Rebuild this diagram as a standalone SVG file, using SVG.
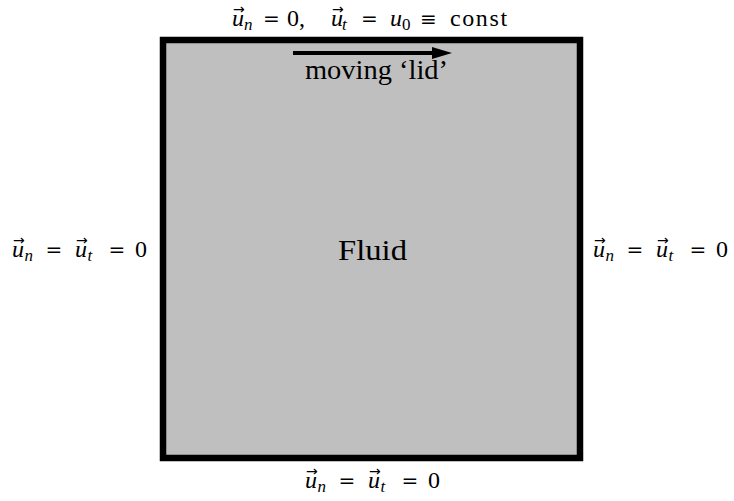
<svg xmlns="http://www.w3.org/2000/svg" width="734" height="501" viewBox="0 0 734 501">
<defs>
<style>
text{font-family:"Liberation Serif","DejaVu Serif",serif;fill:#000;font-size:24px}
.i{font-style:italic}
.s{font-style:italic;font-size:17px}
.r{font-size:17px}
.v{font-family:"DejaVu Sans",sans-serif;font-size:14px;font-style:normal}
.e{font-family:"DejaVu Serif",serif;font-size:20px}
</style>
<marker id="ah" viewBox="0 0 20 12" refX="8" refY="6" markerWidth="20" markerHeight="12" orient="auto" markerUnits="userSpaceOnUse">
<path d="M0,0 L20,6 L0,12 Z" fill="#000"/>
</marker>
</defs>
<rect width="734" height="501" fill="#fff"/>
<g id="fluid">
<rect x="163" y="40" width="417" height="418" fill="#bfbfbf" stroke="#000" stroke-width="6.5"/>
<text x="338" y="260" style="font-size:30px" textLength="69" lengthAdjust="spacingAndGlyphs">Fluid</text>
</g>
<g id="connectors">
<line x1="293" y1="53" x2="440" y2="53" stroke="#000" stroke-width="4" marker-end="url(#ah)"/>
</g>
<g id="lid-label">
<text x="305" y="79" style="font-size:27px" textLength="143" lengthAdjust="spacingAndGlyphs">moving ‘lid’</text>
</g>
<g id="top-bc">
<text><tspan class="i" x="232" y="26">u</tspan><tspan class="v" x="233" y="14">→</tspan><tspan class="s" x="244" y="30">n</tspan><tspan class="e" x="263" y="26">=</tspan><tspan x="287" y="26">0,</tspan><tspan class="i" x="331" y="26">u</tspan><tspan class="v" x="332" y="14">→</tspan><tspan class="s" x="342" y="30">t</tspan><tspan class="e" x="361" y="26">=</tspan><tspan class="i" x="390" y="26">u</tspan><tspan class="r" x="402" y="30">0</tspan><tspan class="e" x="420" y="26">≡</tspan><tspan x="450" y="26" letter-spacing="1.6">const</tspan></text>
</g>
<g id="left-bc">
<text><tspan class="i" x="12" y="257">u</tspan><tspan class="v" x="13" y="245">→</tspan><tspan class="s" x="24.5" y="261">n</tspan><tspan class="e" x="45.5" y="257">=</tspan><tspan class="i" x="75" y="257">u</tspan><tspan class="v" x="76" y="245">→</tspan><tspan class="s" x="87.5" y="261">t</tspan><tspan class="e" x="108.5" y="257">=</tspan><tspan x="135" y="257">0</tspan></text>
</g>
<g id="right-bc">
<text><tspan class="i" x="593" y="256.5">u</tspan><tspan class="v" x="594" y="244.5">→</tspan><tspan class="s" x="605.5" y="260.5">n</tspan><tspan class="e" x="626.5" y="256.5">=</tspan><tspan class="i" x="656" y="256.5">u</tspan><tspan class="v" x="657" y="244.5">→</tspan><tspan class="s" x="668.5" y="260.5">t</tspan><tspan class="e" x="689.5" y="256.5">=</tspan><tspan x="716" y="256.5">0</tspan></text>
</g>
<g id="bottom-bc">
<text><tspan class="i" x="305" y="488">u</tspan><tspan class="v" x="306" y="476">→</tspan><tspan class="s" x="317.5" y="492">n</tspan><tspan class="e" x="338.5" y="488">=</tspan><tspan class="i" x="368" y="488">u</tspan><tspan class="v" x="369" y="476">→</tspan><tspan class="s" x="380.5" y="492">t</tspan><tspan class="e" x="401.5" y="488">=</tspan><tspan x="428" y="488">0</tspan></text>
</g>
</svg>
